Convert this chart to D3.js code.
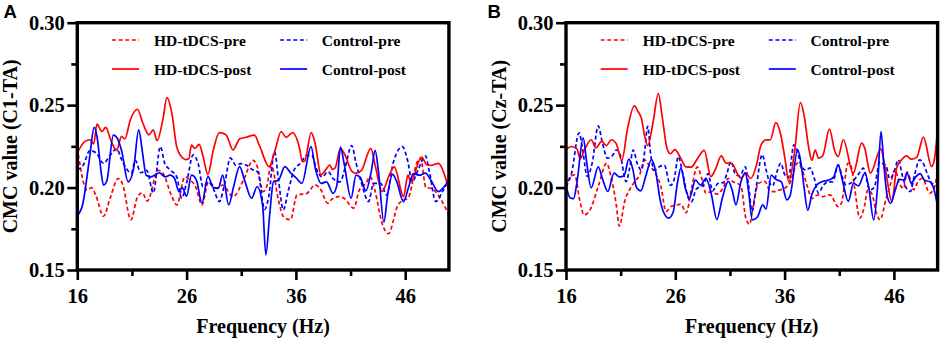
<!DOCTYPE html>
<html><head><meta charset="utf-8">
<script src="https://cdn.jsdelivr.net/npm/d3@7"></script>
<style>
html,body{margin:0;padding:0;background:#fff;}
svg{display:block;}
</style></head>
<body>
<script>
// ---------- DATA (frequency in Hz, CMC value) ----------
const xTicks = [16, 26, 36, 46];
const xMinorTicks = [21, 31, 41];
const yTicks = [0.15, 0.20, 0.25, 0.30];
const yMinorTicks = [0.175, 0.225, 0.275];
const legendLabels = ["HD-tDCS-pre", "Control-pre", "HD-tDCS-post", "Control-post"];
const panelLabels = ["A", "B"];
const yTitles = ["CMC value (C1-TA)", "CMC value (Cz-TA)"];

// Panel A: C1-TA
const c1HdPre = [[16.0,0.224],[16.9,0.1985],[17.3,0.2],[17.7,0.1952],[18.4,0.1826],[19.0,0.1935],[19.75,0.2055],[20.15,0.202],[20.9,0.1804],[21.5,0.1942],[21.95,0.1968],[22.4,0.1918],[23.4,0.2105],[23.85,0.2085],[24.6,0.1955],[25.1,0.1895],[25.85,0.2065],[26.3,0.2045],[26.8,0.201],[27.4,0.1895],[28.0,0.2035],[28.75,0.1998],[29.3,0.2015],[30.25,0.1945],[31.2,0.2045],[32.1,0.2165],[32.5,0.212],[33.0,0.1975],[33.3,0.2],[33.75,0.2135],[34.4,0.1925],[34.85,0.1825],[35.5,0.1805],[36.1,0.1955],[37.0,0.1965],[37.75,0.2016],[38.3,0.1985],[38.9,0.1905],[39.3,0.193],[39.9,0.1945],[40.4,0.1935],[41.3,0.1875],[41.8,0.1985],[42.4,0.2025],[42.8,0.2066],[43.2,0.199],[43.9,0.178],[44.45,0.172],[45.35,0.1895],[45.85,0.1925],[46.25,0.1935],[47.1,0.2155],[47.4,0.2178],[47.9,0.2],[48.4,0.1995],[49.2,0.1935],[50.0,0.1835]];
const c1HdPost = [[16.0,0.221],[16.7,0.228],[17.15,0.229],[17.5,0.2265],[17.8,0.2385],[18.25,0.234],[18.6,0.2365],[19.1,0.228],[19.6,0.2225],[20.05,0.231],[20.35,0.2295],[20.85,0.241],[21.5,0.2475],[22.0,0.239],[22.55,0.232],[22.95,0.235],[23.3,0.2285],[23.85,0.242],[24.2,0.2545],[24.65,0.245],[25.1,0.2245],[25.5,0.219],[25.9,0.217],[26.2,0.2175],[26.45,0.2258],[26.75,0.2238],[27.15,0.2262],[27.5,0.219],[27.95,0.208],[28.45,0.223],[29.0,0.2333],[29.6,0.232],[30.25,0.2228],[30.85,0.2295],[31.45,0.2305],[32.2,0.2318],[32.7,0.2248],[33.55,0.2127],[34.1,0.2228],[34.65,0.234],[35.1,0.2305],[35.7,0.2333],[36.3,0.2248],[36.6,0.2157],[36.8,0.216],[37.4,0.2333],[37.75,0.227],[38.3,0.2077],[38.75,0.211],[39.1,0.2137],[39.35,0.211],[39.6,0.212],[40.07,0.2238],[40.4,0.221],[41.15,0.2097],[41.45,0.2088],[42.0,0.2105],[42.85,0.2238],[43.25,0.2135],[43.88,0.1976],[44.6,0.2085],[45.0,0.2125],[45.85,0.1945],[46.25,0.2077],[46.5,0.2036],[47.5,0.2185],[48.0,0.2137],[48.4,0.2135],[49.05,0.2147],[49.5,0.2097],[50.0,0.198]];
const c1CtrlPre = [[16.0,0.2108],[16.55,0.2137],[17.15,0.2225],[17.75,0.2208],[18.4,0.2147],[19.0,0.2195],[19.6,0.2235],[20.05,0.217],[20.95,0.2088],[21.3,0.2165],[21.8,0.209],[22.35,0.2105],[22.95,0.1968],[23.6,0.2248],[24.0,0.2147],[24.5,0.2107],[25.1,0.2065],[25.55,0.1935],[26.0,0.203],[26.6,0.2198],[27.05,0.2147],[27.5,0.2005],[28.0,0.2035],[28.4,0.2],[29.0,0.1915],[29.5,0.203],[30.0,0.218],[30.5,0.2135],[31.0,0.2145],[31.5,0.2135],[32.0,0.211],[32.5,0.2095],[33.15,0.1868],[33.5,0.194],[34.05,0.2218],[34.4,0.205],[34.85,0.1865],[35.3,0.198],[35.9,0.2115],[36.4,0.2145],[37.0,0.2195],[37.45,0.2195],[37.9,0.211],[38.4,0.2065],[38.95,0.2097],[39.4,0.2055],[40.05,0.2035],[40.5,0.212],[41.1,0.2255],[41.5,0.215],[42.05,0.2016],[42.65,0.1915],[43.1,0.2025],[43.75,0.2026],[44.3,0.1955],[44.9,0.215],[45.75,0.2248],[46.2,0.217],[46.65,0.2036],[47.2,0.211],[47.85,0.2192],[48.2,0.21],[48.8,0.1915],[49.4,0.1975],[50.0,0.205]];
const c1CtrlPost = [[16.0,0.1828],[16.5,0.19],[17.1,0.2168],[17.55,0.2365],[17.85,0.229],[18.15,0.211],[18.4,0.2015],[18.7,0.204],[19.3,0.2318],[19.6,0.2305],[20.05,0.2225],[20.65,0.2035],[21.15,0.2115],[21.62,0.235],[21.95,0.222],[22.3,0.2075],[22.7,0.2065],[23.1,0.2076],[23.5,0.209],[24.05,0.2065],[24.5,0.2075],[24.9,0.2055],[25.3,0.1975],[25.6,0.2],[26.0,0.1948],[26.45,0.2075],[26.9,0.2045],[27.4,0.1905],[27.95,0.2068],[28.45,0.2],[28.9,0.1995],[29.3,0.2075],[29.85,0.1895],[30.3,0.2005],[30.85,0.2127],[31.3,0.2045],[31.95,0.1935],[32.45,0.2005],[32.95,0.1895],[33.25,0.1592],[33.6,0.1835],[33.95,0.2036],[34.4,0.2045],[35.0,0.2127],[35.5,0.209],[36.0,0.206],[36.55,0.2026],[37.38,0.2248],[37.8,0.211],[38.3,0.2025],[38.8,0.2035],[39.4,0.1965],[39.75,0.2015],[40.08,0.2245],[40.4,0.215],[41.05,0.1935],[41.5,0.2075],[41.9,0.206],[42.4,0.198],[42.9,0.21],[43.25,0.2225],[43.55,0.21],[44.05,0.179],[44.4,0.196],[44.85,0.208],[45.2,0.204],[45.85,0.1915],[46.3,0.2],[46.75,0.2085],[47.3,0.2075],[47.85,0.2088],[48.3,0.205],[49.05,0.1975],[49.5,0.2],[50.0,0.2045]];

// Panel B: Cz-TA
const czHdPre = [[16.0,0.1998],[16.4,0.2067],[16.8,0.2077],[17.25,0.1925],[17.65,0.1834],[18.2,0.1865],[18.95,0.2006],[19.72,0.2148],[20.1,0.207],[20.6,0.1895],[20.87,0.1766],[21.4,0.1925],[21.8,0.1985],[22.3,0.2036],[22.75,0.208],[23.2,0.2168],[23.6,0.2135],[24.1,0.2095],[24.7,0.2],[25.15,0.1855],[25.6,0.1885],[26.1,0.1893],[26.5,0.19],[27.0,0.1848],[27.5,0.2],[28.0,0.2125],[28.4,0.206],[28.8,0.1966],[29.3,0.1975],[29.8,0.196],[30.35,0.1995],[30.85,0.2055],[31.3,0.2035],[32.0,0.201],[32.45,0.1815],[32.78,0.1777],[33.2,0.192],[33.6,0.2025],[34.2,0.2037],[34.6,0.1985],[35.0,0.1975],[35.5,0.1985],[36.0,0.1995],[36.5,0.203],[37.15,0.2148],[37.6,0.211],[38.0,0.2025],[38.5,0.1935],[39.0,0.1955],[39.5,0.1945],[40.15,0.1956],[40.9,0.1885],[41.2,0.1905],[41.8,0.2148],[42.1,0.2125],[42.4,0.2],[42.88,0.1815],[43.3,0.1885],[43.6,0.1985],[44.0,0.196],[44.4,0.1845],[44.72,0.1805],[45.3,0.1935],[45.7,0.2025],[46.1,0.2108],[46.5,0.2025],[46.9,0.1995],[47.2,0.2095],[47.5,0.205],[47.8,0.1986],[48.2,0.2035],[48.6,0.2055],[49.3,0.1966],[49.7,0.2],[50.0,0.2105]];
const czHdPost = [[16.0,0.2228],[16.5,0.2249],[17.0,0.2235],[17.3,0.2175],[17.7,0.223],[18.3,0.229],[18.75,0.224],[19.25,0.228],[19.7,0.2255],[20.15,0.229],[20.6,0.2265],[21.1,0.2165],[21.65,0.2365],[22.25,0.2495],[22.6,0.246],[22.9,0.242],[23.2,0.231],[23.48,0.2255],[23.95,0.239],[24.45,0.257],[24.8,0.243],[25.25,0.2235],[25.55,0.2205],[25.95,0.223],[26.5,0.2178],[26.98,0.2125],[27.45,0.2124],[28.05,0.2178],[28.65,0.2225],[29.25,0.2067],[29.7,0.2115],[30.2,0.2192],[30.65,0.2148],[31.1,0.2148],[32.0,0.2057],[32.45,0.2087],[32.9,0.2055],[33.4,0.213],[33.85,0.2259],[34.3,0.2289],[34.7,0.229],[35.2,0.2394],[35.65,0.232],[36.05,0.2168],[36.38,0.2035],[36.9,0.221],[37.45,0.2516],[37.75,0.245],[38.25,0.2225],[38.5,0.2165],[38.8,0.2228],[39.1,0.2178],[39.5,0.2195],[40.1,0.2354],[40.6,0.2219],[40.9,0.2188],[41.37,0.229],[42.28,0.2087],[43.05,0.2269],[43.3,0.2245],[43.85,0.2087],[44.8,0.2235],[45.2,0.212],[45.82,0.1915],[46.25,0.2118],[46.7,0.2168],[47.15,0.2192],[47.6,0.2172],[48.1,0.2185],[48.7,0.2306],[49.45,0.2128],[49.7,0.217],[50.0,0.2355]];
const czCtrlPre = [[16.0,0.2006],[16.5,0.2085],[17.2,0.2332],[17.5,0.224],[17.95,0.2067],[18.4,0.215],[18.95,0.2374],[19.3,0.228],[19.8,0.2178],[20.2,0.219],[20.62,0.2228],[20.95,0.22],[21.5,0.2036],[21.8,0.211],[22.15,0.2228],[22.5,0.215],[22.9,0.2105],[23.2,0.222],[23.47,0.2372],[23.75,0.22],[24.1,0.2105],[24.5,0.2125],[25.0,0.2135],[25.55,0.2013],[25.9,0.205],[26.27,0.2188],[26.7,0.208],[27.2,0.1935],[27.5,0.1915],[27.9,0.199],[28.3,0.2005],[28.6,0.2015],[29.0,0.2085],[29.4,0.198],[29.9,0.2025],[30.4,0.203],[30.7,0.208],[31.1,0.2158],[31.5,0.208],[31.9,0.207],[32.4,0.2125],[32.7,0.2015],[33.02,0.1855],[33.4,0.2],[33.95,0.22],[34.3,0.211],[34.6,0.2035],[34.9,0.201],[35.3,0.2095],[35.65,0.2148],[36.0,0.208],[36.35,0.206],[36.85,0.2259],[37.2,0.2215],[37.5,0.2135],[38.0,0.2105],[38.3,0.212],[38.7,0.206],[39.1,0.1966],[39.5,0.201],[40.0,0.2035],[40.4,0.2035],[40.9,0.2138],[41.2,0.208],[41.6,0.2016],[42.2,0.2035],[42.8,0.2085],[43.2,0.2118],[43.8,0.1986],[44.2,0.2],[44.7,0.2155],[45.0,0.2145],[45.3,0.213],[45.6,0.2055],[46.0,0.209],[46.4,0.2168],[46.8,0.2065],[47.2,0.199],[47.5,0.1976],[47.9,0.208],[48.35,0.2168],[48.7,0.2145],[49.1,0.2075],[49.5,0.2025],[50.0,0.2015]];
const czCtrlPost = [[16.0,0.2016],[16.35,0.194],[16.7,0.1933],[17.0,0.203],[17.57,0.2302],[17.9,0.215],[18.3,0.1998],[18.95,0.2125],[19.35,0.205],[19.82,0.1976],[20.4,0.2087],[20.9,0.2065],[21.3,0.207],[21.75,0.2172],[22.1,0.2115],[22.45,0.2],[22.85,0.198],[23.3,0.207],[23.82,0.217],[24.2,0.21],[24.6,0.193],[24.9,0.1855],[25.4,0.1815],[25.8,0.185],[26.2,0.203],[26.52,0.212],[26.9,0.2],[27.3,0.1938],[27.85,0.2045],[28.3,0.2015],[28.8,0.2055],[29.3,0.196],[29.8,0.1806],[30.3,0.1935],[30.85,0.2037],[31.2,0.1985],[31.55,0.1895],[32.0,0.2035],[32.42,0.209],[32.7,0.198],[33.05,0.1804],[33.5,0.182],[34.0,0.1895],[34.3,0.187],[34.78,0.2075],[35.2,0.205],[35.7,0.2035],[36.2,0.1925],[36.5,0.195],[37.2,0.2229],[37.5,0.215],[37.8,0.199],[38.12,0.1862],[38.5,0.196],[38.95,0.2016],[39.4,0.2035],[40.0,0.2045],[40.5,0.2065],[40.9,0.2138],[41.3,0.204],[41.83,0.1916],[42.3,0.2025],[42.75,0.201],[43.35,0.2087],[43.7,0.2],[44.15,0.1804],[44.5,0.2],[44.82,0.234],[45.1,0.212],[45.4,0.1945],[45.7,0.1905],[46.1,0.198],[46.5,0.205],[46.9,0.2045],[47.2,0.2087],[47.6,0.2027],[48.0,0.2065],[48.4,0.2085],[48.8,0.2045],[49.3,0.2035],[49.7,0.198],[50.0,0.1885]];

// ---------- DRAWING ----------
const W = 941, H = 340;
const RED = "#ff0000", BLUE = "#0000ff";
const serif = "'Liberation Serif','Times New Roman',Times,serif";
const svg = d3.select("body").append("svg").attr("width", W).attr("height", H);

const panels = [
  {x0: 77.3, label: panelLabels[0], labelX: 3.5, titleX: 16.5, ytitle: yTitles[0],
   series: [c1HdPre, c1CtrlPre, c1HdPost, c1CtrlPost]},
  {x0: 566, label: panelLabels[1], labelX: 487.5, titleX: 506, ytitle: yTitles[1],
   series: [czHdPre, czCtrlPre, czHdPost, czCtrlPost]}
];
const styles = [
  {color: RED, dash: "4,2.6"},
  {color: BLUE, dash: "4,2.6"},
  {color: RED, dash: null},
  {color: BLUE, dash: null}
];
const yTop = 22.7, yBot = 270, pxPerHz = 10.93;

panels.forEach((p, pi) => {
  const x1 = p.x0 + 34 * pxPerHz;
  const x = d3.scaleLinear().domain([16, 50]).range([p.x0, x1]);
  const y = d3.scaleLinear().domain([0.15, 0.30]).range([yBot, yTop]);
  const g = svg.append("g");

  const clipId = "clip" + pi;
  svg.append("clipPath").attr("id", clipId).append("rect")
    .attr("x", p.x0).attr("y", yTop).attr("width", x1 - p.x0).attr("height", yBot - yTop);

  const line = d3.line().x(d => x(d[0])).y(d => y(d[1])).curve(d3.curveMonotoneX);
  const lg = g.append("g").attr("clip-path", `url(#${clipId})`);
  p.series.forEach((s, si) => {
    lg.append("path").datum(s).attr("d", line)
      .attr("fill", "none").attr("stroke", styles[si].color)
      .attr("stroke-width", 1.7)
      .attr("stroke-dasharray", styles[si].dash)
      .attr("stroke-linejoin", "round");
  });

  // axes
  const fmt = d3.format(".2f");
  const yAx = g.append("g").attr("transform", `translate(${p.x0},0)`)
    .call(d3.axisLeft(y).tickValues(yTicks).tickFormat(fmt).tickSize(10).tickPadding(2.5));
  const yAxMinor = g.append("g").attr("transform", `translate(${p.x0},0)`)
    .call(d3.axisLeft(y).tickValues(yMinorTicks).tickFormat("").tickSize(6));
  const xAx = g.append("g").attr("transform", `translate(0,${yBot})`)
    .call(d3.axisBottom(x).tickValues(xTicks).tickFormat(d3.format("d")).tickSize(10).tickPadding(8.5));
  const xAxMinor = g.append("g").attr("transform", `translate(0,${yBot})`)
    .call(d3.axisBottom(x).tickValues(xMinorTicks).tickFormat("").tickSize(6));
  [yAx, yAxMinor, xAx, xAxMinor].forEach(a => {
    a.select(".domain").remove();
    a.selectAll(".tick line").attr("stroke", "#000").attr("stroke-width", 2.6);
    a.selectAll(".tick text").attr("fill", "#000")
      .style("font-family", serif).style("font-weight", "bold").style("font-size", "20.5px");
  });

  // frame
  g.append("rect").attr("x", p.x0).attr("y", yTop).attr("width", x1 - p.x0).attr("height", yBot - yTop)
    .attr("fill", "none").attr("stroke", "#000").attr("stroke-width", 3.4);

  // axis titles
  g.append("text").attr("x", (p.x0 + x1) / 2).attr("y", 333)
    .attr("text-anchor", "middle").style("font-family", serif).style("font-weight", "bold")
    .style("font-size", "20px").text("Frequency (Hz)");
  g.append("text").attr("transform", `translate(${p.titleX},${(yTop + yBot) / 2}) rotate(-90)`)
    .attr("text-anchor", "middle").style("font-family", serif).style("font-weight", "bold")
    .style("font-size", "20px").text(p.ytitle);

  // panel label
  g.append("text").attr("x", p.labelX).attr("y", 17.5)
    .style("font-family", "'Liberation Sans',Arial,sans-serif").style("font-weight", "bold")
    .style("font-size", "18.5px").text(p.label);

  // legend
  const legPos = [
    {lx: 34.7, tx: 76.7, y: 40},
    {lx: 202.8, tx: 244.5, y: 40},
    {lx: 34.7, tx: 76.7, y: 69},
    {lx: 202.8, tx: 244.5, y: 69}
  ];
  legendLabels.forEach((lab, i) => {
    const lp = legPos[i];
    g.append("line").attr("x1", p.x0 + lp.lx).attr("x2", p.x0 + lp.lx + 27)
      .attr("y1", lp.y).attr("y2", lp.y)
      .attr("stroke", styles[i].color).attr("stroke-width", 1.7)
      .attr("stroke-dasharray", styles[i].dash);
    g.append("text").attr("x", p.x0 + lp.tx).attr("y", lp.y + 5.5)
      .style("font-family", serif).style("font-weight", "bold").style("font-size", "15.5px")
      .text(lab);
  });
});
</script>
</body></html>
